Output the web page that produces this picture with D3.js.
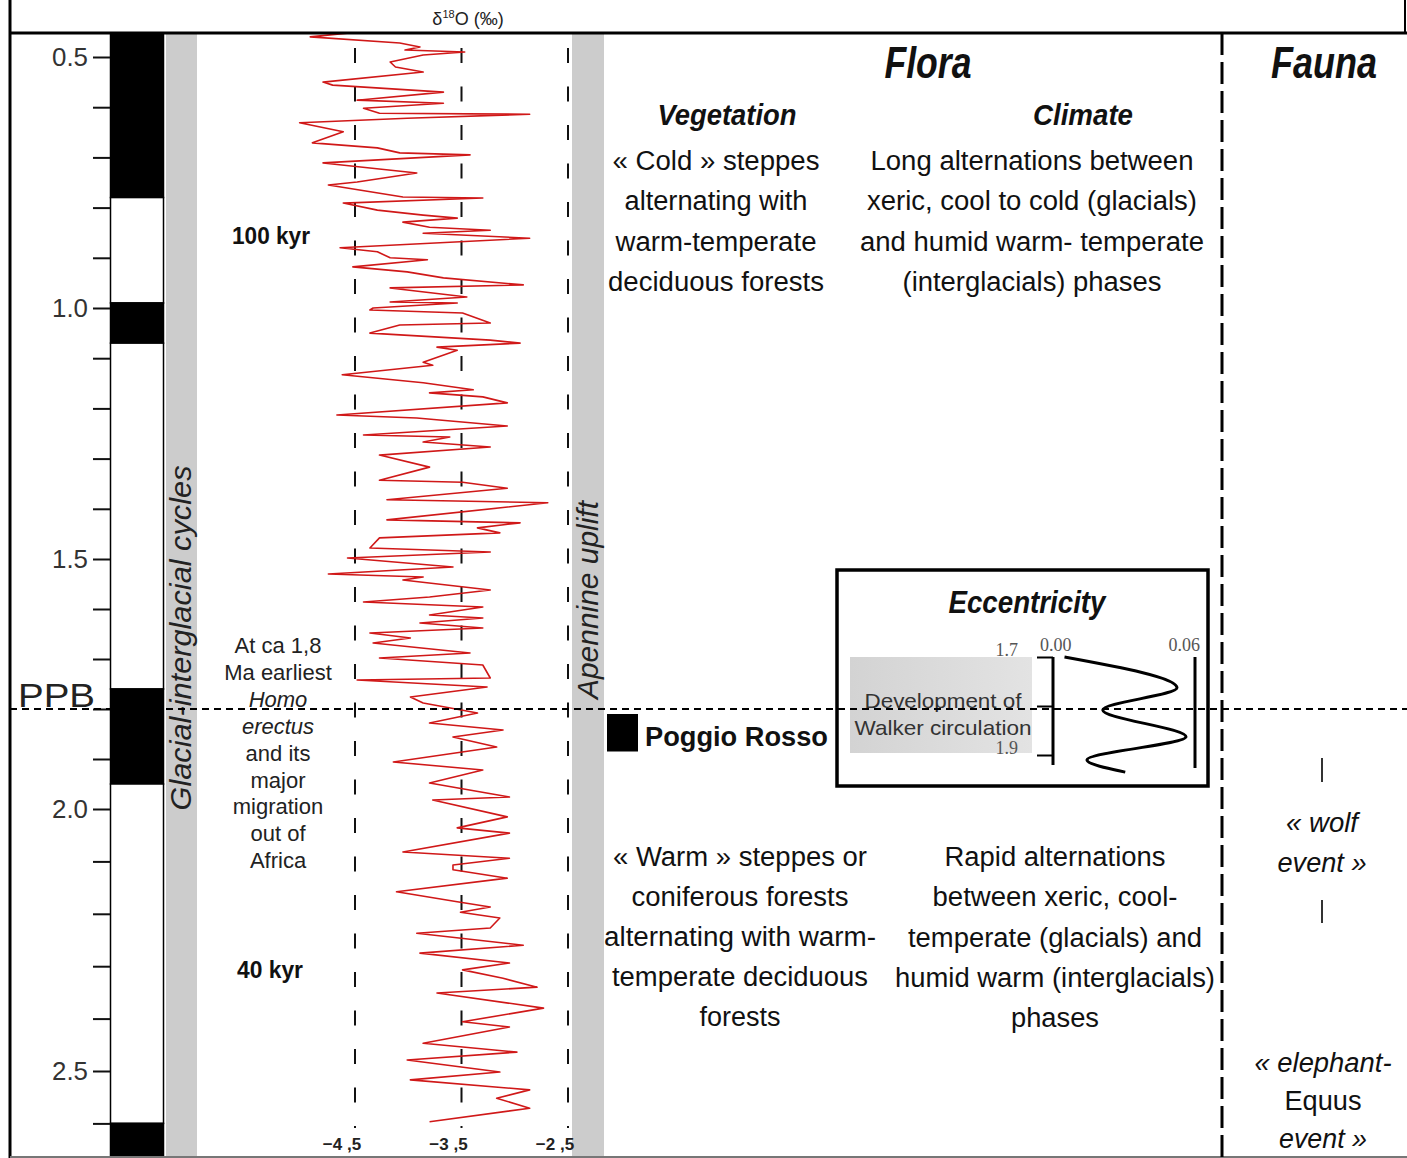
<!DOCTYPE html>
<html><head><meta charset="utf-8">
<script src="https://cdn.jsdelivr.net/npm/d3@7"></script>
<style>
html,body{margin:0;padding:0;background:#fff;}
svg{display:block;font-family:"Liberation Sans",Arial,sans-serif;}
</style></head><body>
<svg id="chart" width="1407" height="1158"></svg>
<script>
// ---------------- DATA ----------------
const ageTicks = [0.5,0.6,0.7,0.8,0.9,1.0,1.1,1.2,1.3,1.4,1.5,1.6,1.7,1.8,1.9,2.0,2.1,2.2,2.3,2.4,2.5,2.6];
const ageLabels = [0.5,1.0,1.5,2.0,2.5];

// magnetic polarity chrons (Ma); 1 = normal (black), 0 = reversed (white)
const polarityTop    = [0.40, 0.78, 0.99, 1.07, 1.76, 1.95, 2.60];
const polarityBottom = [0.78, 0.99, 1.07, 1.76, 1.95, 2.60, 2.80];
const polarityNormal = [1, 0, 1, 0, 1, 0, 1];

// benthic d18O record (age in Ma, value in permil)
const d18oAge = [
0.452,0.460,0.472,0.480,0.486,0.490,0.496,0.510,0.520,0.530,0.550,0.556,0.570,0.586,0.592,0.602,0.612,0.614,0.622,0.631,
0.649,0.671,0.681,0.691,0.695,0.711,0.731,0.749,0.755,0.779,0.781,0.791,0.805,0.815,0.821,0.829,0.839,0.845,0.851,0.861,
0.880,0.888,0.900,0.904,0.918,0.928,0.940,0.954,0.960,0.978,0.988,0.990,1.000,
1.004,1.010,1.030,1.034,1.050,1.064,1.070,1.078,1.084,1.108,1.114,1.133,1.149,1.163,1.169,1.177,1.189,1.213,1.219,1.235,
1.253,1.257,1.267,1.277,1.293,1.317,1.343,1.347,1.359,1.382,1.388,1.422,1.428,1.438,1.448,1.458,1.478,1.486,1.498,
1.516,1.530,1.536,1.542,1.562,1.576,1.586,1.596,1.612,1.618,1.628,1.638,1.648,1.658,1.668,1.688,1.698,1.712,1.738,1.742,
1.756,1.776,1.788,1.808,1.828,1.842,1.856,1.876,1.906,1.922,1.948,1.976,1.982,
2.015,2.036,2.046,2.082,2.094,2.107,2.116,2.132,2.158,2.177,2.187,2.197,2.208,2.227,2.237,2.260,2.275,2.294,2.307,2.323,
2.340,2.351,2.380,2.406,2.416,2.447,2.464,2.479,2.502,2.517,2.536,2.552,2.571,2.597];
const d18oValue = [
-4.55,-4.92,-4.08,-3.89,-4.03,-3.47,-3.86,-4.17,-4.12,-3.86,-4.80,-4.71,-3.67,-4.48,-3.67,-4.42,-4.27,-2.86,-4.01,-5.02,
-4.61,-4.90,-4.29,-4.08,-3.42,-4.80,-3.92,-4.48,-4.75,-4.05,-3.30,-4.61,-4.29,-3.86,-3.54,-4.05,-3.80,-3.23,-3.86,-2.86,
-4.64,-4.29,-4.17,-3.82,-4.52,-4.01,-3.67,-2.92,-4.17,-3.45,-4.17,-3.54,-4.33,
-4.36,-3.49,-3.23,-4.08,-4.36,-3.23,-2.95,-3.73,-3.54,-3.86,-3.77,-4.62,-3.86,-3.39,-3.80,-3.30,-3.07,-4.67,-3.92,-3.07,
-4.42,-3.61,-3.86,-3.23,-4.27,-3.80,-4.27,-3.49,-3.07,-4.20,-2.69,-4.20,-2.95,-3.35,-3.14,-4.27,-4.36,-3.23,-4.57,
-3.58,-4.75,-3.86,-4.05,-3.23,-3.80,-4.42,-3.30,-3.80,-3.30,-3.89,-3.30,-4.36,-3.98,-4.33,-3.42,-4.27,-3.30,-3.23,-4.48,
-3.26,-3.98,-3.86,-3.35,-3.80,-3.11,-3.58,-3.17,-4.14,-3.30,-3.80,-3.05,-3.77,
-3.07,-3.54,-3.05,-4.05,-3.05,-3.58,-3.58,-3.07,-4.11,-3.54,-3.23,-3.51,-3.14,-3.23,-3.92,-2.92,-3.89,-3.05,-3.49,-3.11,
-2.79,-3.73,-2.73,-3.49,-3.05,-3.86,-2.98,-4.01,-3.14,-3.98,-2.86,-3.17,-2.86,-3.80];
const d18oTicks = [-4.5,-3.5,-2.5];

// eccentricity inset
const eccAge   = [1.700, 1.763, 1.808, 1.863, 1.910, 1.935];
const eccValue = [0.002, 0.052, 0.019, 0.056, 0.012, 0.029];
const eccTicks = [0.00, 0.06];
const eccAgeTicks = [1.7, 1.8, 1.9];
const eccAgeLabels = [1.7, 1.9];

const ppbAge = 1.80;
const poggioRossoAge = [1.81, 1.885];

// text content
const vegTop   = ["« Cold » steppes","alternating with","warm-temperate","deciduous forests"];
const climTop  = ["Long alternations between","xeric, cool to cold (glacials)","and humid warm- temperate","(interglacials) phases"];
const vegBot   = ["« Warm » steppes or","coniferous forests","alternating with warm-","temperate deciduous","forests"];
const climBot  = ["Rapid alternations","between xeric, cool-","temperate (glacials) and","humid warm (interglacials)","phases"];
const homoText = ["At ca 1,8","Ma earliest","Homo","erectus","and its","major","migration","out of","Africa"];
const homoItalic = [0,0,1,1,0,0,0,0,0];
const wolfText = ["« wolf","event »"];
const elephText = ["« elephant-","Equus","event »"];
const elephItalic = [1,0,1];

// ---------------- DRAW ----------------
const svg = d3.select("#chart");
const W = 1407, H = 1158, TOP = 33;
const ink = "#111";

const y = d3.scaleLinear().domain(ageLabels).range([57,308,559,809,1071]);
const x = d3.scaleLinear().domain([-4.5,-2.5]).range([355,568]);

// grey bars
svg.append("rect").attr("x",166).attr("y",TOP).attr("width",31).attr("height",H-TOP).attr("fill","#cccccc");
svg.append("rect").attr("x",572).attr("y",TOP).attr("width",32).attr("height",H-TOP).attr("fill","#cccccc");

// polarity column
const pol = polarityTop.map((t,i)=>({t, b:polarityBottom[i], n:polarityNormal[i]}));
svg.append("g").selectAll("rect").data(pol).join("rect")
  .attr("x",110.5).attr("width",53)
  .attr("y", d=>Math.max(TOP, y(d.t)))
  .attr("height", d=>Math.min(H, y(d.b)) - Math.max(TOP, y(d.t)))
  .attr("fill", d=>d.n ? "#000" : "#fff")
  .attr("stroke","#000").attr("stroke-width",1.5);

// age axis
const isLabel = d => ageLabels.some(l=>Math.abs(l-d)<1e-6);
svg.append("g").attr("transform","translate(110,0)")
  .call(d3.axisLeft(y).tickValues(ageTicks).tickSize(17).tickPadding(5)
        .tickFormat(d => isLabel(d) ? d3.format(".1f")(d) : ""))
  .call(g=>g.select(".domain").remove())
  .call(g=>g.selectAll("line").attr("stroke","#111").attr("stroke-width",2))
  .call(g=>g.selectAll("text").attr("font-size",25).attr("fill","#333")
          .attr("textLength",36).attr("lengthAdjust","spacingAndGlyphs")
          .attr("font-family","'Liberation Sans',Arial,sans-serif"));

// d18O dashed guide lines
svg.append("g").selectAll("line").data(d18oTicks).join("line")
  .attr("x1",d=>x(d)).attr("x2",d=>x(d)).attr("y1",48).attr("y2",1128)
  .attr("stroke","#111").attr("stroke-width",2).attr("stroke-dasharray","15,23.5");

// d18O curve
const d18o = d18oAge.map((a,i)=>({a, v:d18oValue[i]}));
svg.append("path").datum(d18o)
  .attr("d", d3.line().x(d=>x(d.v)).y(d=>y(d.a)))
  .attr("fill","none").attr("stroke","#d01818").attr("stroke-width",1.6)
  .attr("stroke-linejoin","round");

// d18O tick labels
svg.append("g").selectAll("text").data(d18oTicks).join("text")
  .attr("x",d=>x(d)-13).attr("y",1150).attr("text-anchor","middle")
  .attr("font-size",17).attr("font-weight","bold").attr("fill","#222")
  .text(d=>d3.format(".1f")(d).replace(".", " ,"));

// d18O title
const t18 = svg.append("text").attr("x",468).attr("y",25).attr("text-anchor","middle")
  .attr("font-size",18).attr("fill","#222");
t18.append("tspan").text("δ");
t18.append("tspan").attr("font-size",11).attr("dy",-7).text("18");
t18.append("tspan").attr("dy",7).text("O (‰)");

// frame
svg.append("line").attr("x1",10).attr("x2",10).attr("y1",0).attr("y2",H).attr("stroke","#000").attr("stroke-width",3);
svg.append("line").attr("x1",10).attr("x2",W).attr("y1",TOP).attr("y2",TOP).attr("stroke","#000").attr("stroke-width",3);
svg.append("line").attr("x1",1405).attr("x2",1405).attr("y1",0).attr("y2",TOP).attr("stroke","#000").attr("stroke-width",2);
svg.append("line").attr("x1",10).attr("x2",W).attr("y1",H-1).attr("y2",H-1).attr("stroke","#777").attr("stroke-width",2);

// Flora / Fauna divider
svg.append("line").attr("x1",1222).attr("x2",1222).attr("y1",TOP).attr("y2",H)
  .attr("stroke","#000").attr("stroke-width",3).attr("stroke-dasharray","22,7");

// text helper
function textLine(txt, o){
  const t = svg.append("text").attr("x",o.x).attr("y",o.y).attr("text-anchor",o.anchor||"middle")
    .attr("font-size",o.size).attr("fill",o.fill||ink)
    .attr("font-weight",o.weight||"normal").attr("font-style",o.style||"normal");
  if (o.w){ t.attr("textLength",o.w).attr("lengthAdjust","spacingAndGlyphs"); }
  if (o.rotate){ t.attr("transform",`rotate(${o.rotate},${o.x},${o.y})`); }
  t.text(txt);
  return t;
}
function block(lines, o){
  lines.forEach((l,i)=>textLine(l, {x:o.x, y:o.y0 + i*o.dy, size:o.size,
     w: o.w ? o.w[i] : null, style: o.italic ? (o.italic[i] ? "italic":"normal") : o.style, weight:o.weight, fill:o.fill}));
}

// headers
textLine("Flora", {x:928, y:78, size:44, weight:"bold", style:"italic", w:87});
textLine("Fauna", {x:1324, y:78, size:44, weight:"bold", style:"italic", w:106});
textLine("Vegetation", {x:727, y:125, size:30, weight:"bold", style:"italic", w:139});
textLine("Climate", {x:1083, y:125, size:30, weight:"bold", style:"italic", w:100});

block(vegTop,  {x:716, y0:170, dy:40.3, size:27, w:[207,183,201,216]});
block(climTop, {x:1032, y0:170, dy:40.3, size:27, w:[323,330,344,259]});
block(vegBot,  {x:740, y0:866, dy:40, size:27, w:[254,217,272,256,81]});
block(climBot, {x:1055, y0:866, dy:40.3, size:27, w:[221,245,294,320,88]});

// left annotations
textLine("100 kyr", {x:271, y:244, size:23, weight:"bold", w:78});
textLine("40 kyr", {x:270, y:978, size:23, weight:"bold", w:66});
block(homoText, {x:278, y0:653, dy:26.9, size:22, italic:homoItalic, fill:"#222"});

// rotated bar labels
textLine("Glacial-interglacial cycles", {x:191, y:638, size:29, style:"italic", rotate:-90, w:345, fill:"#222"});
textLine("Apennine uplift", {x:598, y:600, size:29, style:"italic", rotate:-90, w:198, fill:"#222"});

// PPB
textLine("PPB", {x:18, y:707, size:34, anchor:"start", w:77, fill:"#222"});

// Poggio Rosso
svg.append("rect").attr("x",607).attr("width",31)
  .attr("y",y(poggioRossoAge[0])).attr("height",y(poggioRossoAge[1])-y(poggioRossoAge[0])).attr("fill","#000");
textLine("Poggio Rosso", {x:645, y:746, size:27, weight:"bold", anchor:"start", w:183});

// fauna
block(wolfText, {x:1322, y0:832, dy:40, size:27, style:"italic", w:[72,89]});
block(elephText, {x:1323, y0:1072, dy:38, size:27, italic:elephItalic, w:[137,77,88]});
svg.append("g").selectAll("line").data([[758,782],[900,923]]).join("line")
  .attr("x1",1322).attr("x2",1322).attr("y1",d=>d[0]).attr("y2",d=>d[1])
  .attr("stroke","#333").attr("stroke-width",2);

// ---------------- eccentricity inset ----------------
svg.append("rect").attr("x",837).attr("y",570).attr("width",371).attr("height",216)
  .attr("fill","#fff").attr("stroke","#000").attr("stroke-width",3.5);
textLine("Eccentricity", {x:1027, y:613, size:31, weight:"bold", style:"italic", w:157});

const defs = svg.append("defs");
const grad = defs.append("linearGradient").attr("id","wg");
grad.append("stop").attr("offset","0%").attr("stop-color","#d3d3d3");
grad.append("stop").attr("offset","100%").attr("stop-color","#e3e3e3");
svg.append("rect").attr("x",850).attr("y",657).attr("width",182).attr("height",96).attr("fill","url(#wg)");
textLine("Development of", {x:943, y:708, size:21, fill:"#333", w:157});
textLine("Walker circulation", {x:943, y:735, size:21, fill:"#333", w:177});

const ey = d3.scaleLinear().domain([1.7,1.9]).range([657,755]);
const ex = d3.scaleLinear().domain(eccTicks).range([1060,1195]);

svg.append("g").attr("transform","translate(1053,0)")
  .call(d3.axisLeft(ey).tickValues(eccAgeTicks).tickSize(16).tickPadding(19)
        .tickFormat(d => eccAgeLabels.includes(d) ? d3.format(".1f")(d) : ""))
  .call(g=>g.select(".domain").remove())
  .call(g=>g.selectAll("line").attr("stroke","#000").attr("stroke-width",2))
  .call(g=>g.selectAll("text").attr("font-family","'Liberation Serif',serif")
           .attr("font-size",18).attr("fill","#555").attr("dy","-0.1em"));
svg.append("line").attr("x1",1053).attr("x2",1053).attr("y1",657).attr("y2",765)
  .attr("stroke","#000").attr("stroke-width",3);
svg.append("line").attr("x1",ex(0.06)).attr("x2",ex(0.06)).attr("y1",657).attr("y2",768)
  .attr("stroke","#000").attr("stroke-width",3);
svg.append("g").selectAll("text").data(eccTicks).join("text")
  .attr("x",(d,i)=> i===0 ? ex(d)-20 : ex(d)+5).attr("y",651)
  .attr("text-anchor",(d,i)=> i===0 ? "start" : "end")
  .attr("font-family","'Liberation Serif',serif").attr("font-size",18).attr("fill","#555")
  .text(d=>d3.format(".2f")(d));
const ecc = eccAge.map((a,i)=>({a, e:eccValue[i]}));
svg.append("path").datum(ecc)
  .attr("d", d3.line().curve(d3.curveMonotoneY).x(d=>ex(d.e)).y(d=>ey(d.a)))
  .attr("fill","none").attr("stroke","#000").attr("stroke-width",3);

// PPB dashed line on top
svg.append("line").attr("x1",10).attr("x2",W).attr("y1",y(ppbAge)).attr("y2",y(ppbAge))
  .attr("stroke","#000").attr("stroke-width",2).attr("stroke-dasharray","7,5");
</script>
</body></html>
